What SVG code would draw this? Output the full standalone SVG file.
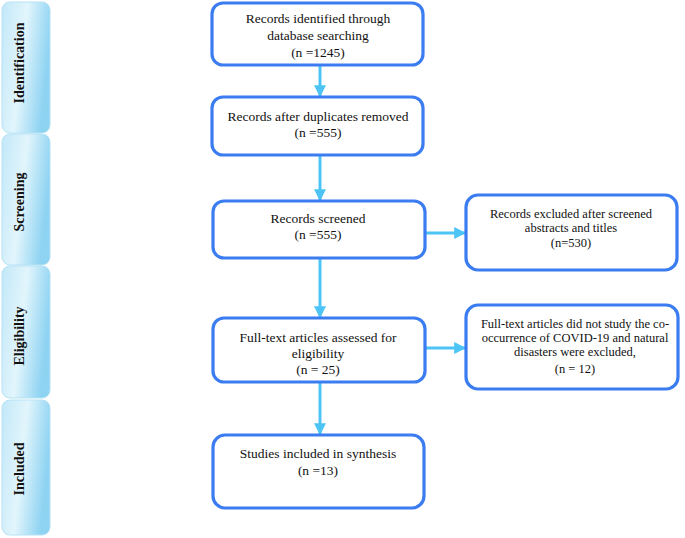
<svg xmlns="http://www.w3.org/2000/svg" width="685" height="538" viewBox="0 0 685 538">
<defs>
<linearGradient id="phg" x1="0" y1="0" x2="1" y2="0.3">
<stop offset="0" stop-color="#c2e8f8"/>
<stop offset="0.5" stop-color="#e2f5fc"/>
<stop offset="1" stop-color="#8ed3f2"/>
</linearGradient>
<marker id="ah" viewBox="0 0 10 10" refX="9" refY="5" markerWidth="4" markerHeight="4" orient="auto" markerUnits="strokeWidth">
<path d="M0,0 L10,5 L0,10 z" fill="#4cc4f6"/>
</marker>
<style>
.ph{fill:url(#phg);stroke:#b5e2f5;stroke-width:1}
.phl{font-family:"Liberation Serif",serif;font-weight:bold;font-size:14px;fill:#111;text-anchor:middle}
.box{fill:#fff;stroke:#3b7cf0;stroke-width:3.2}
.t{font-family:"Liberation Serif",serif;font-size:13.5px;fill:#111;text-anchor:middle}
.ts{font-family:"Liberation Serif",serif;font-size:12.5px;fill:#111;text-anchor:middle}
.c{stroke:#4cc4f6;stroke-width:3;fill:none;marker-end:url(#ah)}
</style>
</defs>
<rect width="685" height="538" fill="#fff"/>
<g id="phase-identification"><rect class="ph" x="2" y="2" width="48" height="131" rx="8"/><text class="phl" transform="translate(24,63) rotate(-90)">Identification</text></g>
<g id="phase-screening"><rect class="ph" x="2" y="134" width="48" height="131" rx="8"/><text class="phl" transform="translate(24,202) rotate(-90)">Screening</text></g>
<g id="phase-eligibility"><rect class="ph" x="2" y="266" width="48" height="132" rx="8"/><text class="phl" transform="translate(24,336) rotate(-90)">Eligibility</text></g>
<g id="phase-included"><rect class="ph" x="2" y="400" width="48" height="135" rx="8"/><text class="phl" transform="translate(24,469) rotate(-90)">Included</text></g>

<g id="connectors">
<line class="c" x1="320" y1="66" x2="320" y2="96"/>
<line class="c" x1="320" y1="156" x2="320" y2="200"/>
<line class="c" x1="426" y1="233" x2="465" y2="233"/>
<line class="c" x1="320" y1="259" x2="320" y2="317"/>
<line class="c" x1="426" y1="348" x2="465" y2="348"/>
<line class="c" x1="320" y1="383" x2="320" y2="434"/>
</g>

<g id="n1"><rect class="box" x="212" y="3" width="211" height="62" rx="11"/>
<text class="t" x="318" y="23">Records identified through</text>
<text class="t" x="318" y="40">database searching</text>
<text class="t" x="318" y="57">(n =1245)</text></g>
<g id="n2"><rect class="box" x="212" y="97" width="211" height="58" rx="11"/>
<text class="t" x="318" y="121">Records after duplicates removed</text>
<text class="t" x="318" y="137">(n =555)</text></g>
<g id="n3"><rect class="box" x="213" y="201" width="212" height="57" rx="11"/>
<text class="t" x="318" y="223">Records screened</text>
<text class="t" x="318" y="239">(n =555)</text></g>
<g id="n3x"><rect class="box" x="466" y="195" width="211" height="75" rx="12"/>
<text class="ts" x="571" y="218">Records excluded after screened</text>
<text class="ts" x="571" y="232">abstracts and titles</text>
<text class="ts" x="571" y="247">(n=530)</text></g>
<g id="n4"><rect class="box" x="213" y="318" width="212" height="64" rx="11"/>
<text class="t" x="318" y="342">Full-text articles assessed for</text>
<text class="t" x="318" y="358">eligibility</text>
<text class="t" x="318" y="374">(n = 25)</text></g>
<g id="n4x"><rect class="box" x="466" y="305" width="212" height="84" rx="12"/>
<text class="ts" x="575" y="328">Full-text articles did not study the co-</text>
<text class="ts" x="575" y="342">occurrence of COVID-19 and natural</text>
<text class="ts" x="575" y="356">disasters were excluded,</text>
<text class="ts" x="575" y="373">(n = 12)</text></g>
<g id="n5"><rect class="box" x="213" y="435" width="211" height="73" rx="12"/>
<text class="t" x="318" y="458">Studies included in synthesis</text>
<text class="t" x="318" y="475">(n =13)</text></g>
</svg>
